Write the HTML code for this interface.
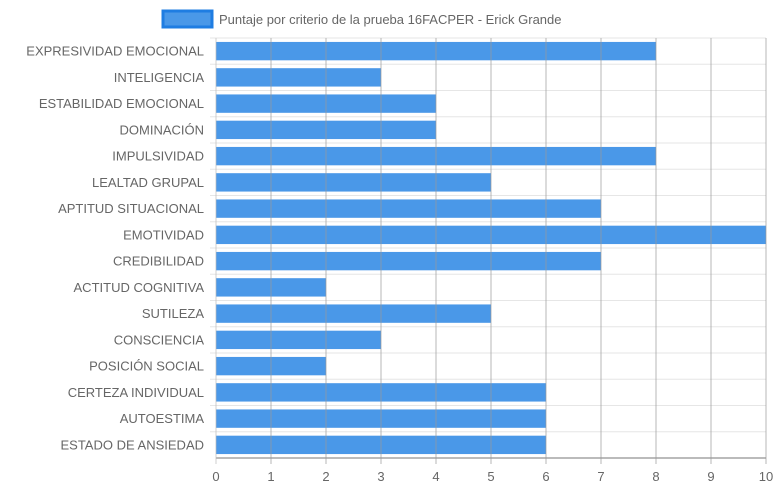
<!DOCTYPE html>
<html><head><meta charset="utf-8"><style>
body{margin:0;background:#fff;font-family:"Liberation Sans",sans-serif}
</style></head><body>
<svg width="777" height="492" xmlns="http://www.w3.org/2000/svg" font-family="Liberation Sans, sans-serif">
<g>
<rect x="163" y="11" width="49" height="16" fill="#4a98e8" stroke="#1f7de2" stroke-width="3"/>
<text x="219" y="24" font-size="13" fill="#666">Puntaje por criterio de la prueba 16FACPER - Erick Grande</text>
</g>
<g id="grid"></g><g id="bars"></g><g id="vgrid"></g><g id="labels"></g>
</svg>
<script>
const categories=["EXPRESIVIDAD EMOCIONAL","INTELIGENCIA","ESTABILIDAD EMOCIONAL","DOMINACIÓN","IMPULSIVIDAD","LEALTAD GRUPAL","APTITUD SITUACIONAL","EMOTIVIDAD","CREDIBILIDAD","ACTITUD COGNITIVA","SUTILEZA","CONSCIENCIA","POSICIÓN SOCIAL","CERTEZA INDIVIDUAL","AUTOESTIMA","ESTADO DE ANSIEDAD"];
const values=[8,3,4,4,8,5,7,10,7,2,5,3,2,6,6,6];
const ticks=[0,1,2,3,4,5,6,7,8,9,10];
const NS="http://www.w3.org/2000/svg";
const L=216,R=766,T=38,B=458,xmax=10;
const x=v=>L+(R-L)*v/xmax;
const rowH=(B-T)/categories.length;
const y=i=>T+rowH*i;
function mk(p,tag,a){const e=document.createElementNS(NS,tag);for(const k in a)e.setAttribute(k,a[k]);p.appendChild(e);return e;}
const grid=document.getElementById('grid'),bars=document.getElementById('bars'),vg=document.getElementById('vgrid'),lab=document.getElementById('labels');
for(let i=0;i<=categories.length;i++){
 const l=mk(grid,'line',{x1:i==categories.length?L:L-6,x2:R,y1:y(i),y2:y(i),stroke:i==categories.length?'#bbb':'#e6e6e6','stroke-width':i==categories.length?2:1});
 
 
}
categories.forEach((c,i)=>{
 const r=mk(bars,'rect',{x:L,y:y(i)+rowH*0.15,width:x(values[i])-L,height:rowH*0.7,fill:'#4a98e8'});
 
 
 const t=mk(lab,'text',{x:L-12,y:y(i)+rowH/2+4.5,'text-anchor':'end','font-size':13,fill:'#666'});
 t.textContent=c;
 
 
});
ticks.forEach(v=>{
 const l=mk(vg,'line',{x1:x(v),x2:x(v),y1:T,y2:B+6,stroke:v==0?'#bbb':'#999','stroke-width':1,'stroke-opacity':0.7});
 
 
 const t=mk(lab,'text',{x:x(v),y:481,'text-anchor':'middle','font-size':13,fill:'#666'});
 t.textContent=v;
 
 
});
</script>
</body></html>
